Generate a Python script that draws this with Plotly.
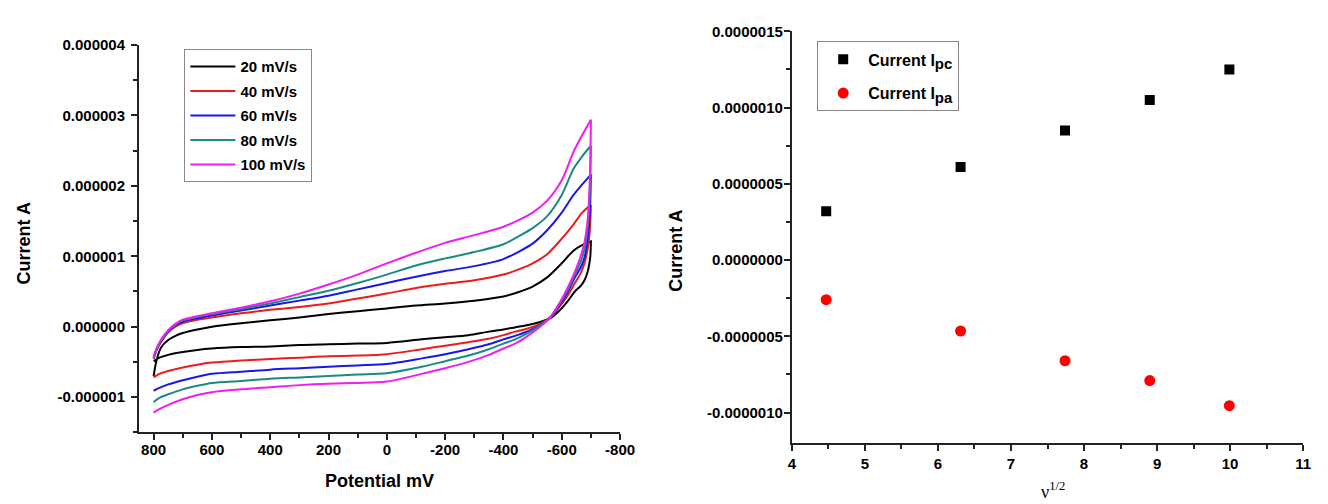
import plotly.graph_objects as go

# ---- cyclic voltammograms at several scan rates ----
SCAN_RATES = ["20 mV/s", "40 mV/s", "60 mV/s", "80 mV/s", "100 mV/s"]
COLORS = ["#000000", "#ec1c1c", "#1717e8", "#1c8a80", "#f01cf0"]

# forward sweep potentials (mV)
FWD_MV = [800, 790, 775, 750, 725, 700, 650, 600, 500, 400, 300, 200, 100, 0,
          -100, -200, -300, -400, -450, -500, -550, -600, -640, -670, -700]
# return sweep potentials (mV)
REV_MV = [-700, -698, -694, -688, -678, -665, -645, -620, -590, -560, -520, -480,
          -440, -400, -350, -280, -200, -120, 0, 100, 200, 300, 400, 500, 600,
          650, 700, 750, 780, 800]

# currents in microamps
FWD_20 = [-0.70, -0.48, -0.30, -0.19, -0.13, -0.09, -0.04, 0.00, 0.05, 0.09, 0.13, 0.18, 0.22,
          0.26, 0.30, 0.33, 0.37, 0.43, 0.49, 0.57, 0.70, 0.90, 1.08, 1.16, 1.21]
FWD_40 = [-0.45, -0.33, -0.22, -0.08, 0.00, 0.05, 0.10, 0.13, 0.19, 0.24, 0.28, 0.33, 0.40,
          0.47, 0.55, 0.61, 0.66, 0.74, 0.81, 0.90, 1.03, 1.25, 1.45, 1.62, 1.73]
FWD_60 = [-0.45, -0.33, -0.21, -0.07, 0.02, 0.07, 0.12, 0.16, 0.23, 0.30, 0.37, 0.44, 0.53,
          0.62, 0.71, 0.79, 0.86, 0.96, 1.06, 1.18, 1.37, 1.62, 1.87, 2.02, 2.16]
FWD_80 = [-0.45, -0.32, -0.20, -0.06, 0.03, 0.09, 0.14, 0.18, 0.25, 0.33, 0.42, 0.51, 0.62,
          0.74, 0.87, 0.97, 1.06, 1.17, 1.28, 1.40, 1.57, 1.87, 2.24, 2.42, 2.57]
FWD_100 = [-0.43, -0.31, -0.19, -0.05, 0.04, 0.10, 0.15, 0.19, 0.27, 0.36, 0.47, 0.60, 0.74,
           0.90, 1.05, 1.19, 1.30, 1.42, 1.51, 1.62, 1.79, 2.08, 2.48, 2.72, 2.94]

REV_20 = [1.21, 1.00, 0.88, 0.77, 0.66, 0.58, 0.50, 0.36, 0.22, 0.12, 0.06, 0.02, -0.01, -0.04,
          -0.07, -0.12, -0.15, -0.18, -0.23, -0.24, -0.25, -0.26, -0.28, -0.29, -0.31, -0.33,
          -0.36, -0.40, -0.44, -0.49]
REV_40 = [1.73, 1.48, 1.26, 1.08, 0.90, 0.76, 0.62, 0.44, 0.27, 0.13, 0.03, -0.03, -0.07, -0.12,
          -0.17, -0.22, -0.27, -0.32, -0.39, -0.41, -0.42, -0.44, -0.46, -0.48, -0.51, -0.54,
          -0.58, -0.63, -0.67, -0.72]
REV_60 = [2.16, 1.80, 1.48, 1.22, 0.98, 0.84, 0.70, 0.49, 0.29, 0.13, 0.01, -0.07, -0.13, -0.18,
          -0.25, -0.32, -0.39, -0.45, -0.53, -0.55, -0.57, -0.59, -0.61, -0.64, -0.67, -0.71,
          -0.76, -0.82, -0.87, -0.91]
REV_80 = [2.57, 2.12, 1.70, 1.38, 1.10, 0.92, 0.74, 0.52, 0.31, 0.13, 0.00, -0.10, -0.18, -0.24,
          -0.32, -0.41, -0.49, -0.57, -0.66, -0.68, -0.70, -0.72, -0.74, -0.77, -0.80, -0.84,
          -0.89, -0.96, -1.01, -1.07]
REV_100 = [2.94, 2.35, 1.85, 1.48, 1.20, 1.00, 0.78, 0.55, 0.32, 0.13, -0.02, -0.14, -0.24, -0.31,
           -0.40, -0.50, -0.59, -0.67, -0.78, -0.80, -0.81, -0.83, -0.86, -0.89, -0.93, -0.97,
           -1.03, -1.11, -1.17, -1.22]

FWD_ALL = [FWD_20, FWD_40, FWD_60, FWD_80, FWD_100]
REV_ALL = [REV_20, REV_40, REV_60, REV_80, REV_100]

CV_YTICKS = [-1e-6, 0, 1e-6, 2e-6, 3e-6, 4e-6]
CV_YTEXT = ["-0.000001", "0.000000", "0.000001", "0.000002", "0.000003", "0.000004"]
CV_XTICKS = [800, 600, 400, 200, 0, -200, -400, -600, -800]
CV_XTEXT = ["800", "600", "400", "200", "0", "-200", "-400", "-600", "-800"]

# ---- peak currents vs square root of scan rate ----
SQRT_RATE = [4.47, 6.31, 7.74, 8.90, 9.99]
I_PC = [0.32e-6, 0.61e-6, 0.85e-6, 1.05e-6, 1.25e-6]
I_PA = [-0.26e-6, -0.465e-6, -0.66e-6, -0.79e-6, -0.955e-6]

PK_YTICKS = [-1.0e-6, -0.5e-6, 0, 0.5e-6, 1.0e-6, 1.5e-6]
PK_YTEXT = ["-0.0000010", "-0.0000005", "0.0000000", "0.0000005", "0.0000010", "0.0000015"]

W, H = 1328, 504
FONT = "Liberation Sans"

fig = go.Figure()

for i, name in enumerate(SCAN_RATES):
    xs = FWD_MV + REV_MV
    ys = [v * 1e-6 for v in FWD_ALL[i] + REV_ALL[i]]
    fig.add_trace(go.Scatter(
        x=xs, y=ys, mode="lines", name=name, legendgroup=name,
        line=dict(color=COLORS[i], width=2, shape="spline", smoothing=0.8),
        xaxis="x", yaxis="y", legend="legend", hoverinfo="skip"))

SUB = "<sub><span style='font-size:15px'>{}</span></sub>"
fig.add_trace(go.Scatter(
    x=SQRT_RATE, y=I_PC, mode="markers", name="Current I" + SUB.format("pc"),
    marker=dict(symbol="square", size=10, color="black"),
    xaxis="x2", yaxis="y2", legend="legend2", legendgroup="pc"))
fig.add_trace(go.Scatter(
    x=SQRT_RATE, y=I_PA, mode="markers", name="Current I" + SUB.format("pa"),
    marker=dict(symbol="circle", size=11, color="#ff0000"),
    xaxis="x2", yaxis="y2", legend="legend2", legendgroup="pa"))

axis_common = dict(
    showgrid=False, zeroline=False, showline=True, linecolor="#222", linewidth=2,
    ticks="outside", ticklen=6, tickwidth=2, tickcolor="#222", mirror=False,
    tickfont=dict(family=FONT, size=15, color="black", weight="bold"),
)
minor_common = dict(ticks="outside", ticklen=4, tickwidth=2, tickcolor="#222")


def px_x(p):
    return p / W


def px_y(p):
    return 1 - p / H


fig.update_layout(
    width=W, height=H, margin=dict(l=0, r=0, t=0, b=0),
    paper_bgcolor="white", plot_bgcolor="white",
    xaxis=dict(axis_common, domain=[px_x(137), px_x(625)], range=[850, -800],
               tickvals=CV_XTICKS, ticktext=CV_XTEXT, anchor="y", ticklabelstandoff=-3,
               minor=dict(minor_common, dtick=100, tick0=0)),
    yaxis=dict(axis_common, domain=[px_y(431), px_y(36.7)], range=[-1.5e-6, 4e-6],
               tickvals=CV_YTICKS, ticktext=CV_YTEXT, anchor="x", ticklabelstandoff=3,
               minor=dict(minor_common, dtick=0.5e-6, tick0=0)),
    xaxis2=dict(axis_common, domain=[px_x(799.3), px_x(1318)], range=[4, 11],
                dtick=1, tick0=4, anchor="y2", ticklabelstandoff=0,
                minor=dict(minor_common, dtick=0.5, tick0=4)),
    yaxis2=dict(axis_common, domain=[px_y(442), px_y(22.7)], range=[-1.2e-6, 1.5e-6],
                tickvals=PK_YTICKS, ticktext=PK_YTEXT, anchor="x2", ticklabelstandoff=-2,
                minor=dict(minor_common, dtick=0.25e-6, tick0=0)),
    legend=dict(x=px_x(183), y=px_y(41), xanchor="left", yanchor="top",
                bgcolor="white", bordercolor="#888", borderwidth=1,
                font=dict(family=FONT, size=15, color="black", weight="bold"),
                tracegroupgap=2, itemwidth=45),
    legend2=dict(x=px_x(825), y=px_y(33), xanchor="left", yanchor="top",
                 bgcolor="white", bordercolor="#888", borderwidth=1,
                 font=dict(family=FONT, size=16, color="black", weight="bold"),
                 tracegroupgap=10, itemwidth=40),
    showlegend=True,
)

title_font = dict(family=FONT, size=18, color="black", weight="bold")
fig.add_annotation(text="Potential mV", x=px_x(381), y=px_y(481), xref="paper", yref="paper",
                   showarrow=False, font=title_font, xanchor="center", yanchor="middle")
fig.add_annotation(text="Current A", x=px_x(20), y=px_y(239), xref="paper", yref="paper",
                   showarrow=False, font=title_font, textangle=-90, xanchor="center", yanchor="middle")
fig.add_annotation(text="Current A", x=px_x(681), y=px_y(246), xref="paper", yref="paper",
                   showarrow=False, font=title_font, textangle=-90, xanchor="center", yanchor="middle")
fig.add_annotation(text="ν<sup>1/2</sup>", x=px_x(1064), y=0, xref="paper", yref="paper",
                   showarrow=False, font=dict(family="Liberation Serif", size=18, color="black"),
                   xanchor="center", yanchor="bottom")

fig.write_html("out.html")
